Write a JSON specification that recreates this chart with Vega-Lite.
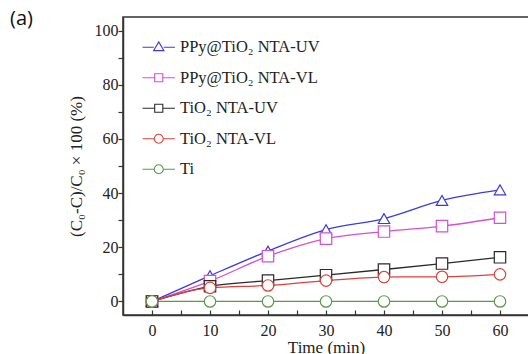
{
  "$schema": "https://vega.github.io/schema/vega-lite/v6.json",
  "width": 406,
  "height": 298,
  "autosize": "none",
  "padding": {"left": 123, "top": 17, "right": 0, "bottom": 39},
  "background": "white",
  "title": {"text": "(a)", "anchor": "start", "frame": "group", "orient": "top", "font": "Open Sans", "fontSize": 20, "fontWeight": "normal", "color": "#111", "dx": -113, "dy": 36, "baseline": "bottom"},
  "config": {
    "view": {"stroke": "#333", "strokeWidth": 1.5},
    "axis": {"labelFont": "Liberation Serif", "labelFontSize": 16, "labelColor": "#222", "titleFont": "Liberation Serif", "titleFontSize": 17, "titleFontWeight": "normal", "titleColor": "#222", "domainColor": "#333", "domainWidth": 1.5, "tickColor": "#333", "tickWidth": 1.2, "grid": false},
    "legend": {"orient": "none", "legendX": 27.5, "legendY": 22, "symbolSize": 81, "labelOffset": 13, "rowPadding": 13.5, "labelFont": "Liberation Serif", "labelFontSize": 16.5, "labelFontWeight": "normal", "labelColor": "#222", "symbolStrokeWidth": 1.1}
  },
  "data": {"values": [
    {"t": 0, "v": 0, "s": "PPy@TiO₂ NTA-UV"},
    {"t": 10, "v": 9.5, "s": "PPy@TiO₂ NTA-UV"},
    {"t": 20, "v": 18.6, "s": "PPy@TiO₂ NTA-UV"},
    {"t": 30, "v": 26.5, "s": "PPy@TiO₂ NTA-UV"},
    {"t": 40, "v": 30.6, "s": "PPy@TiO₂ NTA-UV"},
    {"t": 50, "v": 37.3, "s": "PPy@TiO₂ NTA-UV"},
    {"t": 60, "v": 41.2, "s": "PPy@TiO₂ NTA-UV"},
    {"t": 0, "v": 0, "s": "PPy@TiO₂ NTA-VL"},
    {"t": 10, "v": 7.5, "s": "PPy@TiO₂ NTA-VL"},
    {"t": 20, "v": 16.7, "s": "PPy@TiO₂ NTA-VL"},
    {"t": 30, "v": 23.2, "s": "PPy@TiO₂ NTA-VL"},
    {"t": 40, "v": 25.8, "s": "PPy@TiO₂ NTA-VL"},
    {"t": 50, "v": 27.8, "s": "PPy@TiO₂ NTA-VL"},
    {"t": 60, "v": 30.9, "s": "PPy@TiO₂ NTA-VL"},
    {"t": 0, "v": 0, "s": "TiO₂ NTA-UV"},
    {"t": 10, "v": 5.6, "s": "TiO₂ NTA-UV"},
    {"t": 20, "v": 7.7, "s": "TiO₂ NTA-UV"},
    {"t": 30, "v": 9.7, "s": "TiO₂ NTA-UV"},
    {"t": 40, "v": 11.8, "s": "TiO₂ NTA-UV"},
    {"t": 50, "v": 14.0, "s": "TiO₂ NTA-UV"},
    {"t": 60, "v": 16.3, "s": "TiO₂ NTA-UV"},
    {"t": 0, "v": 0, "s": "TiO₂ NTA-VL"},
    {"t": 10, "v": 5.0, "s": "TiO₂ NTA-VL"},
    {"t": 20, "v": 5.9, "s": "TiO₂ NTA-VL"},
    {"t": 30, "v": 7.7, "s": "TiO₂ NTA-VL"},
    {"t": 40, "v": 9.0, "s": "TiO₂ NTA-VL"},
    {"t": 50, "v": 9.1, "s": "TiO₂ NTA-VL"},
    {"t": 60, "v": 10.0, "s": "TiO₂ NTA-VL"},
    {"t": 0, "v": 0, "s": "Ti"},
    {"t": 10, "v": 0, "s": "Ti"},
    {"t": 20, "v": 0, "s": "Ti"},
    {"t": 30, "v": 0, "s": "Ti"},
    {"t": 40, "v": 0, "s": "Ti"},
    {"t": 50, "v": 0, "s": "Ti"},
    {"t": 60, "v": 0, "s": "Ti"}
  ]},
  "encoding": {
    "x": {"field": "t", "type": "quantitative", "title": "Time (min)",
      "scale": {"domain": [-5, 65], "nice": false, "zero": false},
      "axis": {"values": [0, 5, 10, 15, 20, 25, 30, 35, 40, 45, 50, 55, 60], "labelExpr": "datum.value % 10 === 0 ? datum.label : ''", "tickSize": -5, "labelPadding": 12, "titlePadding": 1,
        "encode": {"ticks": {"y2": {"value": {"expr": "datum.value % 10 === 0 ? -5 : -3"}}}}}},
    "y": {"field": "v", "type": "quantitative", "title": "(C₀-C)/C₀ × 100 (%)",
      "scale": {"domain": [-5, 105], "nice": false, "zero": false},
      "axis": {"values": [0, 10, 20, 30, 40, 50, 60, 70, 80, 90, 100], "labelExpr": "datum.value % 20 === 0 ? datum.label : ''", "tickSize": 5, "labelPadding": 0, "titlePadding": 9,
        "encode": {"ticks": {"x2": {"value": {"expr": "datum.value % 20 === 0 ? -5 : -3"}}}}}}
  },
  "layer": [
    {"mark": {"type": "line", "interpolate": "monotone", "strokeWidth": 1.3},
     "encoding": {"color": {"field": "s", "type": "nominal", "legend": null,
       "scale": {"domain": ["PPy@TiO₂ NTA-UV", "PPy@TiO₂ NTA-VL", "TiO₂ NTA-UV", "TiO₂ NTA-VL", "Ti"], "range": ["#3b3bdc", "#d64fd6", "#2a2a2a", "#e0403c", "#5a9a46"]}}}},
    {"mark": {"type": "point", "filled": false, "fill": "white", "fillOpacity": 1, "opacity": 1, "size": 130, "strokeWidth": 1.2},
     "encoding": {
       "shape": {"field": "s", "type": "nominal", "legend": null,
         "scale": {"domain": ["PPy@TiO₂ NTA-UV", "PPy@TiO₂ NTA-VL", "TiO₂ NTA-UV", "TiO₂ NTA-VL", "Ti"], "range": ["triangle-up", "square", "square", "circle", "circle"]}},
       "stroke": {"field": "s", "type": "nominal", "legend": null,
         "scale": {"domain": ["PPy@TiO₂ NTA-UV", "PPy@TiO₂ NTA-VL", "TiO₂ NTA-UV", "TiO₂ NTA-VL", "Ti"], "range": ["#3b3bdc", "#d64fd6", "#2a2a2a", "#e0403c", "#5a9a46"]}}
     }},
    {"transform": [{"filter": "datum.t < -100"}],
     "mark": {"type": "point", "filled": false, "fill": "white", "opacity": 1, "strokeWidth": 1.1},
     "encoding": {
       "shape": {"field": "s", "type": "nominal", "legend": {"title": null},
         "scale": {"domain": ["PPy@TiO₂ NTA-UV", "PPy@TiO₂ NTA-VL", "TiO₂ NTA-UV", "TiO₂ NTA-VL", "Ti"], "range": ["M-3.6,0H-1.1M1.1,0H3.6M0,-1.2L1.15,0.75H-1.15Z", "M-3.6,0H-0.9M0.9,0H3.6M-0.9,-0.9H0.9V0.9H-0.9Z", "M-3.6,0H-0.9M0.9,0H3.6M-0.9,-0.9H0.9V0.9H-0.9Z", "M-3.6,0H-1M1,0H3.6M-1,0A1,1 0 1,0 1,0A1,1 0 1,0 -1,0", "M-3.6,0H-1M1,0H3.6M-1,0A1,1 0 1,0 1,0A1,1 0 1,0 -1,0"]}},
       "stroke": {"field": "s", "type": "nominal", "legend": {"title": null},
         "scale": {"domain": ["PPy@TiO₂ NTA-UV", "PPy@TiO₂ NTA-VL", "TiO₂ NTA-UV", "TiO₂ NTA-VL", "Ti"], "range": ["#3b3bdc", "#d64fd6", "#2a2a2a", "#e0403c", "#5a9a46"]}}
     }}
  ],
  "resolve": {"scale": {"color": "independent", "stroke": "independent", "shape": "independent"}}
}
